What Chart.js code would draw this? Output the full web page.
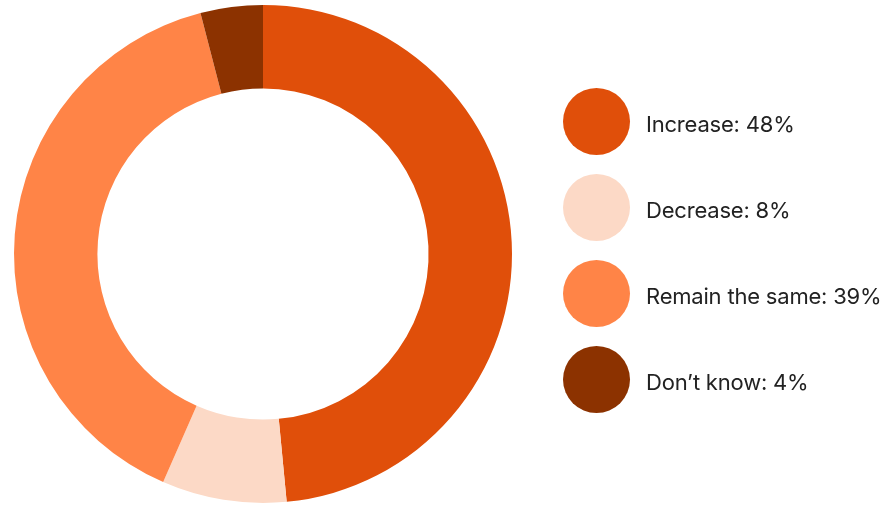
<!DOCTYPE html>
<html>
<head>
<meta charset="utf-8">
<script src="https://cdn.jsdelivr.net/npm/chart.js@4/dist/chart.umd.min.js"></script>
<style>
  html, body { margin: 0; padding: 0; background: #fff; }
  #wrap { position: relative; width: 889px; height: 505px; }
  #chartBox { position: absolute; left: 0; top: 0; width: 889px; height: 505px; }
  #legend { position: absolute; left: 563px; top: 88px; margin: 0; padding: 0; list-style: none;
            font-family: Inter, "Noto Sans", sans-serif; font-size: 22px; color: #222; }
  #legend li { display: flex; align-items: center; height: 67px; margin-bottom: 19px; }
  #legend .sw { width: 67px; height: 67px; border-radius: 50%; flex: none; }
  #legend .tx { margin-left: 16px; padding-top: 5px; white-space: nowrap; letter-spacing: -0.2px; }
</style>
</head>
<body>
<div id="wrap">
  <div id="chartBox"><canvas id="c"></canvas></div>
  <ul id="legend"></ul>
</div>
<script>
const categories = ["Increase", "Decrease", "Remain the same", "Don\u2019t know"];
const values = [48, 8, 39, 4];
const colors = ["#E04F0A", "#FCD9C6", "#FF8447", "#8C3200"];

const chart = new Chart(document.getElementById("c"), {
  type: "doughnut",
  data: {
    labels: categories,
    datasets: [{
      data: values,
      backgroundColor: colors,
      borderWidth: 0,
      hoverOffset: 0
    }]
  },
  options: {
    responsive: true,
    maintainAspectRatio: false,
    animation: false,
    cutout: "66.5%",
    layout: { padding: { left: 14, right: 377, top: 5, bottom: 2 } },
    plugins: {
      legend: { display: false },
      tooltip: { enabled: false }
    }
  }
});

const ul = document.getElementById("legend");
categories.forEach((cat, i) => {
  const li = document.createElement("li");
  const sw = document.createElement("span");
  sw.className = "sw";
  sw.style.background = colors[i];
  const tx = document.createElement("span");
  tx.className = "tx";
  tx.textContent = cat + ": " + values[i] + "%";
  li.appendChild(sw);
  li.appendChild(tx);
  ul.appendChild(li);
});
</script>
</body>
</html>
